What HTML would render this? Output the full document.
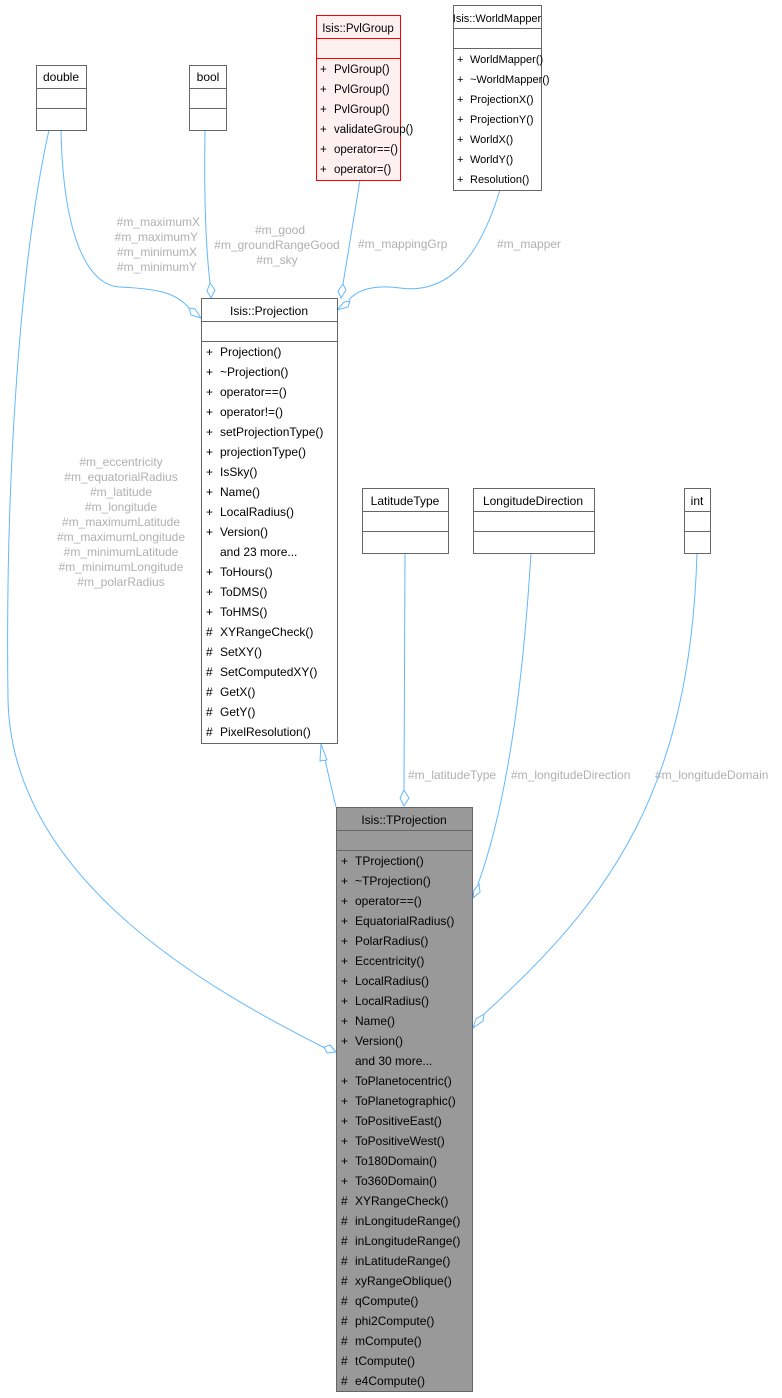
<!DOCTYPE html>
<html><head><meta charset="utf-8"><style>
html,body{margin:0;padding:0;background:#fff;}
svg{display:block;font-family:"Liberation Sans",Arial,sans-serif;}
.t{font-size:12px;fill:#000;}
.s{font-size:11.5px;}
.w{font-size:11px;}
.l{font-size:12px;fill:#b0b0b0;}
.e{fill:none;stroke:#63b8ff;stroke-width:1;}
.d{fill:#fff;stroke:#63b8ff;stroke-width:1;}
.b{fill:#fff;stroke:#666;stroke-width:1;}
</style></head><body>
<svg width="782" height="1398" viewBox="0 0 782 1398" xmlns="http://www.w3.org/2000/svg">
<!-- edges -->
<path class="e" d="M61,130 C63,230 85,285 120,287 C160,289 176,293 189,308"/>
<polygon class="d" points="201,318 195,309 189,308 191,315"/>
<path class="e" d="M49,130 C20,260 5,480 8,700 C12,880 210,990 325,1048"/>
<polygon class="d" points="336,1052 330,1045 324,1047 327,1053"/>
<path class="e" d="M205,130 C204,190 205,240 210,283"/>
<polygon class="d" points="211,298 215,290 210,283 207,291"/>
<path class="e" d="M360,180 L343,284"/>
<polygon class="d" points="341,298 346,290 343,284 338,291"/>
<path class="e" d="M500,190 C480,255 450,295 400,288 C370,284 355,292 349,300"/>
<polygon class="d" points="337,310 344,302 350,301 348,307"/>
<path class="e" d="M336,807 L325,760"/>
<polygon class="d" points="321,744 327,760 320,761"/>
<path class="e" d="M405,553 L404,790"/>
<polygon class="d" points="404,806 400,798 404,790 409,798"/>
<path class="e" d="M531,553 C522,700 505,810 478,884"/>
<polygon class="d" points="473,898 474,890 479,884 480,892"/>
<path class="e" d="M697,553 C690,790 610,900 484,1014"/>
<polygon class="d" points="473,1028 476,1019 484,1014 483,1021"/>
<!-- edge labels -->
<g class="l" text-anchor="end">
<text x="200" y="226">#m_maximumX</text>
<text x="198" y="241">#m_maximumY</text>
<text x="197" y="256">#m_minimumX</text>
<text x="197" y="271">#m_minimumY</text>
</g>
<g class="l" text-anchor="middle">
<text x="280" y="234">#m_good</text>
<text x="277" y="249">#m_groundRangeGood</text>
<text x="277" y="264">#m_sky</text>
<text x="121" y="466">#m_eccentricity</text>
<text x="121" y="481">#m_equatorialRadius</text>
<text x="121" y="496">#m_latitude</text>
<text x="121" y="511">#m_longitude</text>
<text x="121" y="526">#m_maximumLatitude</text>
<text x="121" y="541">#m_maximumLongitude</text>
<text x="121" y="556">#m_minimumLatitude</text>
<text x="121" y="571">#m_minimumLongitude</text>
<text x="121" y="586">#m_polarRadius</text>
</g>
<text class="l" x="358" y="248">#m_mappingGrp</text>
<text class="l" x="497" y="248">#m_mapper</text>
<text class="l" x="408" y="779">#m_latitudeType</text>
<text class="l" x="511" y="779">#m_longitudeDirection</text>
<text class="l" x="655" y="779">#m_longitudeDomain</text>

<!-- double -->
<rect class="b" x="36.5" y="65.5" width="50" height="65"/>
<line class="b" x1="36" y1="88.5" x2="87" y2="88.5"/><line class="b" x1="36" y1="108.5" x2="87" y2="108.5"/>
<text class="t" x="61" y="81" text-anchor="middle">double</text>
<!-- bool -->
<rect class="b" x="189.5" y="65.5" width="37" height="65"/>
<line class="b" x1="189" y1="88.5" x2="227" y2="88.5"/><line class="b" x1="189" y1="108.5" x2="227" y2="108.5"/>
<text class="t" x="208" y="81" text-anchor="middle">bool</text>
<!-- PvlGroup -->
<rect x="316.5" y="15.5" width="84" height="165" fill="#fff0f0" stroke="#ff0000"/>
<line x1="316" y1="38.5" x2="401" y2="38.5" stroke="#ff0000"/><line x1="316" y1="58.5" x2="401" y2="58.5" stroke="#ff0000"/>
<text class="t s" x="358" y="32" text-anchor="middle">Isis::PvlGroup</text>
<g class="t s">
<text x="320" y="73">+</text><text x="334" y="73">PvlGroup()</text>
<text x="320" y="93">+</text><text x="334" y="93">PvlGroup()</text>
<text x="320" y="113">+</text><text x="334" y="113">PvlGroup()</text>
<text x="320" y="133">+</text><text x="334" y="133">validateGroup()</text>
<text x="320" y="153">+</text><text x="334" y="153">operator==()</text>
<text x="320" y="173">+</text><text x="334" y="173">operator=()</text>
</g>
<!-- WorldMapper -->
<rect class="b" x="453.5" y="5.5" width="88" height="185"/>
<line class="b" x1="453" y1="28.5" x2="542" y2="28.5"/><line class="b" x1="453" y1="48.5" x2="542" y2="48.5"/>
<text class="t w" x="497" y="22" text-anchor="middle">Isis::WorldMapper</text>
<g class="t w">
<text x="457" y="63">+</text><text x="470" y="63">WorldMapper()</text>
<text x="457" y="83">+</text><text x="470" y="83">~WorldMapper()</text>
<text x="457" y="103">+</text><text x="470" y="103">ProjectionX()</text>
<text x="457" y="123">+</text><text x="470" y="123">ProjectionY()</text>
<text x="457" y="143">+</text><text x="470" y="143">WorldX()</text>
<text x="457" y="163">+</text><text x="470" y="163">WorldY()</text>
<text x="457" y="183">+</text><text x="470" y="183">Resolution()</text>
</g>
<!-- Projection -->
<rect class="b" x="201.5" y="298.5" width="136" height="445"/>
<line class="b" x1="201" y1="321.5" x2="338" y2="321.5"/><line class="b" x1="201" y1="341.5" x2="338" y2="341.5"/>
<text class="t" x="269" y="315" text-anchor="middle">Isis::Projection</text>
<g class="t">
<text x="206" y="356">+</text><text x="220" y="356">Projection()</text>
<text x="206" y="376">+</text><text x="220" y="376">~Projection()</text>
<text x="206" y="396">+</text><text x="220" y="396">operator==()</text>
<text x="206" y="416">+</text><text x="220" y="416">operator!=()</text>
<text x="206" y="436">+</text><text x="220" y="436">setProjectionType()</text>
<text x="206" y="456">+</text><text x="220" y="456">projectionType()</text>
<text x="206" y="476">+</text><text x="220" y="476">IsSky()</text>
<text x="206" y="496">+</text><text x="220" y="496">Name()</text>
<text x="206" y="516">+</text><text x="220" y="516">LocalRadius()</text>
<text x="206" y="536">+</text><text x="220" y="536">Version()</text>
<text x="220" y="556">and 23 more...</text>
<text x="206" y="576">+</text><text x="220" y="576">ToHours()</text>
<text x="206" y="596">+</text><text x="220" y="596">ToDMS()</text>
<text x="206" y="616">+</text><text x="220" y="616">ToHMS()</text>
<text x="206" y="636">#</text><text x="220" y="636">XYRangeCheck()</text>
<text x="206" y="656">#</text><text x="220" y="656">SetXY()</text>
<text x="206" y="676">#</text><text x="220" y="676">SetComputedXY()</text>
<text x="206" y="696">#</text><text x="220" y="696">GetX()</text>
<text x="206" y="716">#</text><text x="220" y="716">GetY()</text>
<text x="206" y="736">#</text><text x="220" y="736">PixelResolution()</text>
</g>
<!-- LatitudeType -->
<rect class="b" x="362.5" y="488.5" width="86" height="65"/>
<line class="b" x1="362" y1="511.5" x2="449" y2="511.5"/><line class="b" x1="362" y1="531.5" x2="449" y2="531.5"/>
<text class="t" x="405" y="505" text-anchor="middle">LatitudeType</text>
<!-- LongitudeDirection -->
<rect class="b" x="473.5" y="488.5" width="121" height="65"/>
<line class="b" x1="473" y1="511.5" x2="595" y2="511.5"/><line class="b" x1="473" y1="531.5" x2="595" y2="531.5"/>
<text class="t" x="533" y="505" text-anchor="middle">LongitudeDirection</text>
<!-- int -->
<rect class="b" x="684.5" y="488.5" width="26" height="65"/>
<line class="b" x1="684" y1="511.5" x2="711" y2="511.5"/><line class="b" x1="684" y1="531.5" x2="711" y2="531.5"/>
<text class="t" x="697" y="505" text-anchor="middle">int</text>
<!-- TProjection -->
<rect x="336.5" y="807.5" width="136" height="584" fill="#999" stroke="#666"/>
<line class="b" x1="336" y1="830.5" x2="473" y2="830.5"/><line class="b" x1="336" y1="850.5" x2="473" y2="850.5"/>
<text class="t" x="404" y="824" text-anchor="middle">Isis::TProjection</text>
<g class="t">
<text x="341" y="865">+</text><text x="355" y="865">TProjection()</text>
<text x="341" y="885">+</text><text x="355" y="885">~TProjection()</text>
<text x="341" y="905">+</text><text x="355" y="905">operator==()</text>
<text x="341" y="925">+</text><text x="355" y="925">EquatorialRadius()</text>
<text x="341" y="945">+</text><text x="355" y="945">PolarRadius()</text>
<text x="341" y="965">+</text><text x="355" y="965">Eccentricity()</text>
<text x="341" y="985">+</text><text x="355" y="985">LocalRadius()</text>
<text x="341" y="1005">+</text><text x="355" y="1005">LocalRadius()</text>
<text x="341" y="1025">+</text><text x="355" y="1025">Name()</text>
<text x="341" y="1045">+</text><text x="355" y="1045">Version()</text>
<text x="355" y="1065">and 30 more...</text>
<text x="341" y="1085">+</text><text x="355" y="1085">ToPlanetocentric()</text>
<text x="341" y="1105">+</text><text x="355" y="1105">ToPlanetographic()</text>
<text x="341" y="1125">+</text><text x="355" y="1125">ToPositiveEast()</text>
<text x="341" y="1145">+</text><text x="355" y="1145">ToPositiveWest()</text>
<text x="341" y="1165">+</text><text x="355" y="1165">To180Domain()</text>
<text x="341" y="1185">+</text><text x="355" y="1185">To360Domain()</text>
<text x="341" y="1205">#</text><text x="355" y="1205">XYRangeCheck()</text>
<text x="341" y="1225">#</text><text x="355" y="1225">inLongitudeRange()</text>
<text x="341" y="1245">#</text><text x="355" y="1245">inLongitudeRange()</text>
<text x="341" y="1265">#</text><text x="355" y="1265">inLatitudeRange()</text>
<text x="341" y="1285">#</text><text x="355" y="1285">xyRangeOblique()</text>
<text x="341" y="1305">#</text><text x="355" y="1305">qCompute()</text>
<text x="341" y="1325">#</text><text x="355" y="1325">phi2Compute()</text>
<text x="341" y="1345">#</text><text x="355" y="1345">mCompute()</text>
<text x="341" y="1365">#</text><text x="355" y="1365">tCompute()</text>
<text x="341" y="1385">#</text><text x="355" y="1385">e4Compute()</text>
</g>
</svg>
</body></html>
